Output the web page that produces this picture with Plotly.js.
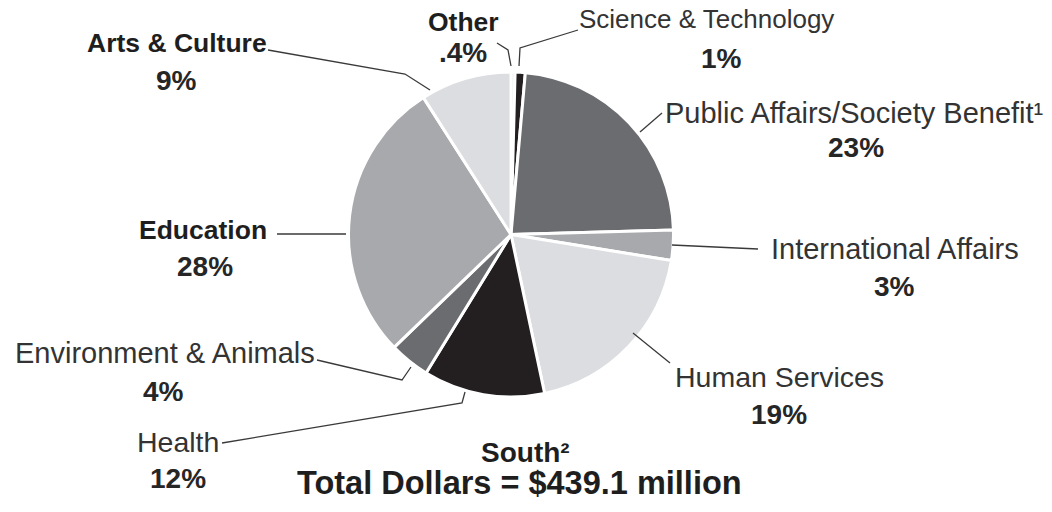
<!DOCTYPE html>
<html>
<head>
<meta charset="utf-8">
<script src="https://cdn.plot.ly/plotly-3.0.1.min.js"></script>
<style>html,body{margin:0;padding:0;background:#fff;}#chart{width:1052px;height:512px;}</style>
</head>
<body>
<div id="chart"></div>
<script>
// ---- data ----
var categories = ["Other", "Science & Technology", "Public Affairs/Society Benefit\u00b9", "International Affairs",
                  "Human Services", "Health", "Environment & Animals", "Education", "Arts & Culture"];
var shares = [0.4, 1, 23, 3, 19, 12, 4, 28, 9];
var shareLabels = [".4%", "1%", "23%", "3%", "19%", "12%", "4%", "28%", "9%"];
var sliceColors = ["#dcdde0", "#231f20", "#6b6c6f", "#a7a9ac", "#dcdde0", "#231f20", "#6b6c6f", "#a7a9ac", "#dcdde0"];
var regionTitle = "South\u00b2";
var totalLabel = "Total Dollars = $439.1 million";

// ---- layout helpers (pixel -> paper) ----
var W = 1052, H = 512;
function px(x) { return x / W; }
function py(y) { return 1 - y / H; }

var cx = 511, cy = 234.5, R = 162.5;

var FONT = "Liberation Sans, Arial, sans-serif";
// label placement: [name x, name y, pct x, pct y, bold name, name size]
var place = [
  [463, 22, 463, 52, true, 26.5],
  [706, 19, 721, 58, false, 26],
  [854, 113, 856, 147, false, 29],
  [895, 249, 894, 286, false, 29],
  [779, 377, 779, 414, false, 28.5],
  [178, 442, 178, 478, false, 28.5],
  [165, 353, 163, 391, false, 29],
  [203, 230, 205, 266, true, 26.5],
  [177, 43, 176, 80, true, 26.5]
];
// leader lines (pixel points)
var leaders = [
  [[497, 43], [508, 50], [511, 66]],
  [[519, 66], [520, 48], [578, 30]],
  [[640, 132], [662, 113]],
  [[672, 245], [758, 249]],
  [[633, 333], [670, 363]],
  [[222, 443], [462, 403], [465, 392]],
  [[317, 360], [402, 380], [411, 367]],
  [[277, 234], [346, 234]],
  [[268, 50], [405, 74], [430, 90]]
];

var annotations = [];
for (var i = 0; i < categories.length; i++) {
  var p = place[i];
  annotations.push({
    xref: "paper", yref: "paper", x: px(p[0]), y: py(p[1]), xanchor: "center", yanchor: "middle",
    text: p[4] ? "<b>" + categories[i] + "</b>" : categories[i], showarrow: false,
    font: {family: FONT, size: p[5], color: p[4] ? "#1e1e1e" : "#333333"}
  });
  annotations.push({
    xref: "paper", yref: "paper", x: px(p[2]), y: py(p[3]), xanchor: "center", yanchor: "middle",
    text: "<b>" + shareLabels[i] + "</b>", showarrow: false,
    font: {family: FONT, size: 28, color: "#262626"}
  });
}
annotations.push({
  xref: "paper", yref: "paper", x: px(525), y: py(452), xanchor: "center", yanchor: "middle",
  text: "<b>" + regionTitle + "</b>", showarrow: false, font: {family: FONT, size: 28, color: "#1e1e1e"}
});
annotations.push({
  xref: "paper", yref: "paper", x: px(519), y: py(483), xanchor: "center", yanchor: "middle",
  text: "<b>" + totalLabel + "</b>", showarrow: false, font: {family: FONT, size: 32.5, color: "#1e1e1e"}
});

var shapes = leaders.map(function (pts) {
  var d = pts.map(function (q, k) { return (k ? "L" : "M") + px(q[0]).toFixed(5) + "," + py(q[1]).toFixed(5); }).join(" ");
  return {type: "path", xref: "paper", yref: "paper", path: d, line: {color: "#3a3a3a", width: 1.3}};
});

var trace = {
  type: "pie",
  labels: categories,
  values: shares,
  sort: false,
  direction: "clockwise",
  rotation: 0,
  textinfo: "none",
  hoverinfo: "label+percent",
  marker: {colors: sliceColors, line: {color: "#ffffff", width: 3}},
  domain: {x: [px(cx - R), px(cx + R)], y: [py(cy + R), py(cy - R)]},
  showlegend: false
};

var layout = {
  width: W, height: H, autosize: false,
  margin: {l: 0, r: 0, t: 0, b: 0},
  paper_bgcolor: "#ffffff", plot_bgcolor: "#ffffff",
  showlegend: false,
  annotations: annotations,
  shapes: shapes
};

Plotly.newPlot("chart", [trace], layout, {staticPlot: true, displayModeBar: false});
</script>
</body>
</html>
